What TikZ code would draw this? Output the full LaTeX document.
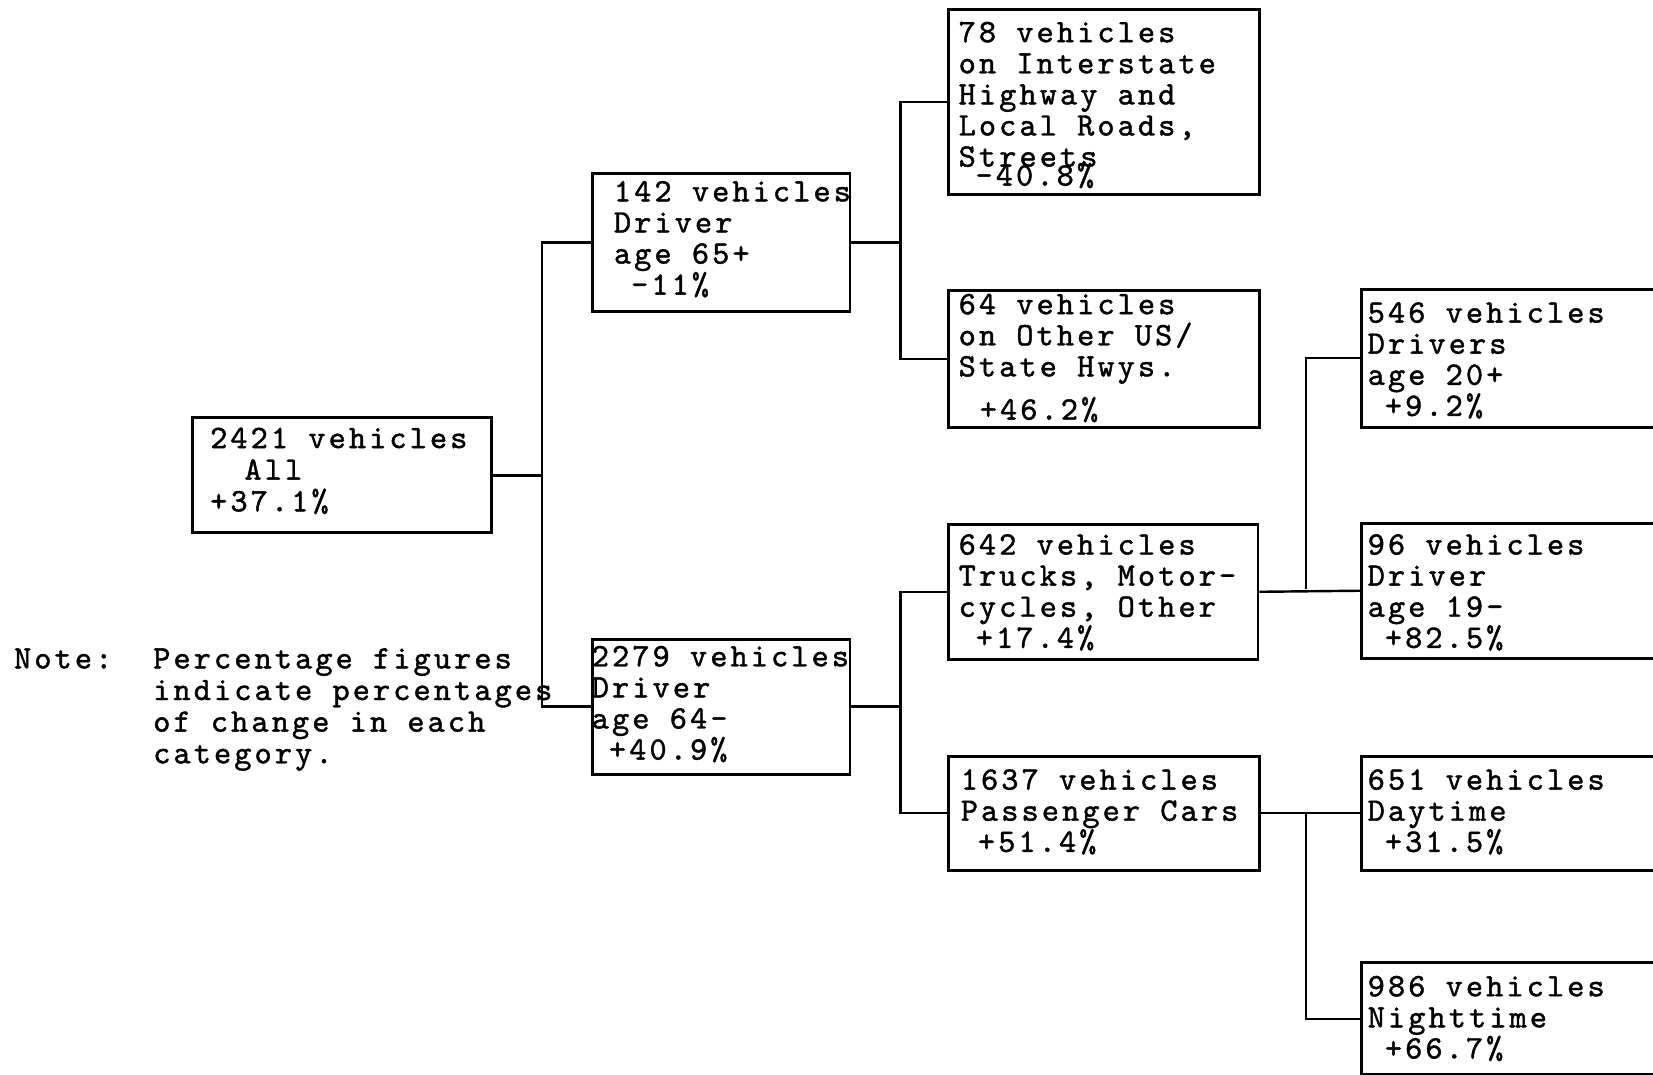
\documentclass[tikz,border=0pt]{standalone}
\usepackage{fontspec}
\newfontfamily\tw{lmmono10-regular.otf}[LetterSpace=9.5,FakeBold=1.3]
\newcommand\tl[2][14.75pt]{\vtop{\baselineskip=#1\lineskiplimit=-20pt\lineskip=0pt\halign{##\hfil\cr#2\crcr}}}
\newcommand\ph{\phantom{0}}
\begin{document}
\begin{tikzpicture}[x=0.5pt,y=-0.5pt,
  box/.style 2 args={draw, line width=1.35pt, inner sep=0pt, anchor=north west,
    minimum width=#1*0.5pt, minimum height=#2*0.5pt},
  txt/.style={anchor=base west, inner sep=0pt, font=\tw\fontsize{15.5pt}{15pt}\selectfont},
  conn/.style={line width=1.15pt}]
\clip (0,0) rectangle (1568,1019);
\fill[white] (0,0) rectangle (1568,1019);
% boxes
\node[box={284}{109}] (A) at (181,395) {};
\node[box={244}{131}] (B) at (561,163) {};
\node[box={244}{128}] (C) at (561,605) {};
\node[box={295}{175}] (D) at (898,8) {};
\node[box={295}{130}] (E) at (898,274) {};
\node[box={294}{128}] (F) at (898,496) {};
\node[box={295}{108}] (G) at (898,716) {};
\node[box={330}{131}] (H) at (1290,273) {};
\node[box={330}{128}] (I) at (1290,495) {};
\node[box={330}{108}] (J) at (1290,716) {};
\node[box={330}{106}] (K) at (1290,912) {};
% texts
\node[txt] (At) at (199,425) {\tl[15pt]{2421 vehicles\cr \ph\ph All\cr +37.1\%}};
\node[txt] (Bt) at (582,191) {\tl{142 vehicles\cr Driver\cr age 65+\cr \ph-11\%}};
\node[txt] (Ct) at (561,632) {\tl{2279 vehicles\cr Driver\cr age 64-\cr \ph+40.9\%}};
\node[txt] (Dt) at (909,40) {\tl{78 vehicles\cr on Interstate\cr Highway and\cr Local Roads,\cr Streets}};
\node[txt] (Dp) at (925,176) {-40.8\%};
\node[txt] (Et) at (909,298) {\tl{64 vehicles\cr on Other US/\cr State Hwys.}};
\node[txt] (Ep) at (929,398) {+46.2\%};
\node[txt] (Ft) at (909,526) {\tl{642 vehicles\cr Trucks, Motor-\cr cycles, Other\cr \ph+17.4\%}};
\node[txt] (Gt) at (911,749) {\tl{1637 vehicles\cr Passenger Cars\cr \ph+51.4\%}};
\node[txt] (Ht) at (1297,306) {\tl{546 vehicles\cr Drivers\cr age 20+\cr \ph+9.2\%}};
\node[txt] (It) at (1297,526) {\tl{96 vehicles\cr Driver\cr age 19-\cr \ph+82.5\%}};
\node[txt] (Jt) at (1297,749) {\tl{651 vehicles\cr Daytime\cr \ph+31.5\%}};
\node[txt] (Kt) at (1297,945) {\tl{986 vehicles\cr Nighttime\cr \ph+66.7\%}};
\node[txt] (note) at (13,634) {Note:};
\node[txt] (notet) at (145,634) {\tl[15pt]{Percentage figures\cr indicate percentages\cr of change in each\cr category.}};
% junctions
\coordinate (j1) at (514,447);
\coordinate (j2) at (854,230);
\coordinate (j3) at (854,669);
\coordinate (j4) at (1239,559);
\coordinate (j5) at (1239,770);
% connectors
\draw[conn] (A.east) -- (A.east -| j1);
\draw[conn] (B.west) -| (j1) |- (C.west);
\draw[conn] (B.east) -- (B.east -| j2);
\draw[conn] (D.west) -| (j2) |- (E.west);
\draw[conn] (C.east) -- (C.east -| j3);
\draw[conn] (F.west) -| (j3) |- (G.west);
\draw[conn] (F.east) -- (I.west);
\draw[conn] (H.west) -| (j4);
\draw[conn] (G.east) -- (J.west);
\draw[conn] (K.west) -| (j5);
\end{tikzpicture}
\end{document}
